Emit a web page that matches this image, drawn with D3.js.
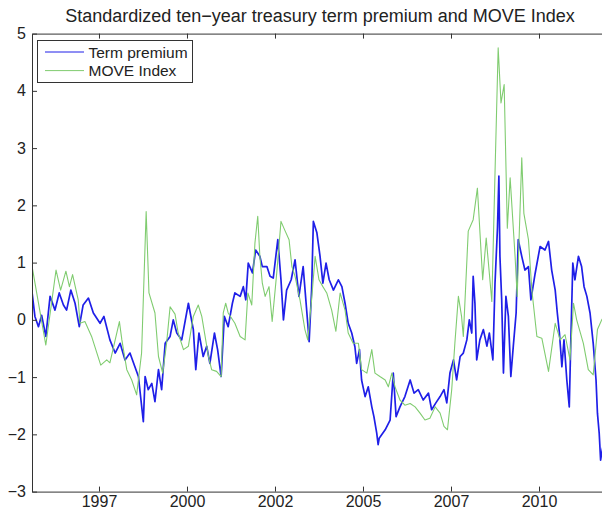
<!DOCTYPE html>
<html>
<head>
<meta charset="utf-8">
<script src="https://cdn.jsdelivr.net/npm/d3@7"></script>
<style>
  html, body { margin: 0; padding: 0; background: #fff; }
  svg { display: block; }
  text { font-family: "Liberation Sans", Arial, Helvetica, sans-serif; fill: #222; }
</style>
</head>
<body>
<svg id="chart" width="602" height="514"></svg>
<script>
const title = "Standardized ten\u2212year treasury term premium and MOVE Index";
const seriesNames = ["Term premium", "MOVE Index"];
const xTickValues = [1997.5, 2000, 2002.5, 2005, 2007.5, 2010];
const xTickLabels = ["1997", "2000", "2002", "2005", "2007", "2010"];
const yTickValues = [-3, -2, -1, 0, 1, 2, 3, 4, 5];
const xDomain = [1995.597, 2011.96];
const yDomain = [-3, 5];

// Term premium (decimal year, standardized value)
const tpYears = [1995.60,1995.68,1995.78,1995.87,1995.99,1996.11,1996.25,1996.37,1996.49,1996.58,1996.70,1996.82,1996.94,1997.05,1997.20,1997.34,1997.53,1997.64,1997.81,1997.96,1998.10,1998.24,1998.38,1998.52,1998.62,1998.76,1998.81,1998.90,1999.00,1999.09,1999.19,1999.28,1999.38,1999.52,1999.61,1999.71,1999.85,2000.04,2000.18,2000.25,2000.34,2000.46,2000.56,2000.65,2000.78,2000.87,2000.97,2001.06,2001.17,2001.29,2001.36,2001.51,2001.60,2001.67,2001.74,2001.86,2001.95,2002.07,2002.14,2002.27,2002.36,2002.45,2002.58,2002.67,2002.74,2002.83,2002.96,2003.07,2003.18,2003.30,2003.43,2003.47,2003.54,2003.59,2003.69,2003.78,2003.86,2003.95,2004.04,2004.16,2004.30,2004.40,2004.49,2004.58,2004.68,2004.77,2004.82,2004.90,2004.96,2005.06,2005.15,2005.25,2005.31,2005.39,2005.43,2005.46,2005.63,2005.77,2005.86,2005.94,2006.05,2006.19,2006.34,2006.45,2006.57,2006.71,2006.86,2006.95,2007.07,2007.19,2007.30,2007.38,2007.47,2007.57,2007.66,2007.76,2007.85,2007.95,2008.02,2008.09,2008.13,2008.18,2008.23,2008.32,2008.42,2008.52,2008.59,2008.69,2008.75,2008.82,2008.86,2008.89,2008.94,2008.99,2009.06,2009.13,2009.20,2009.27,2009.35,2009.41,2009.51,2009.60,2009.70,2009.77,2009.89,2010.03,2010.17,2010.27,2010.36,2010.46,2010.52,2010.58,2010.65,2010.71,2010.79,2010.86,2010.90,2010.96,2011.02,2011.12,2011.21,2011.28,2011.36,2011.45,2011.54,2011.62,2011.66,2011.71,2011.75,2011.78,2011.82];
const tpValues = [0.47,0.06,-0.12,0.08,-0.29,0.41,0.17,0.47,0.26,0.17,0.52,0.29,-0.12,0.26,0.38,0.12,-0.06,0.06,-0.35,-0.58,-0.41,-0.70,-0.58,-0.82,-0.99,-1.78,-0.99,-1.22,-1.11,-1.43,-0.87,-1.22,-0.41,-0.29,0.00,-0.23,-0.35,0.29,-0.17,-0.87,-0.23,-0.64,-0.46,-0.76,-0.23,-0.52,-0.99,0.06,-0.12,0.29,0.47,0.41,0.58,0.35,0.99,0.82,1.22,1.11,0.93,0.93,0.76,0.73,1.40,0.70,0.00,0.52,0.70,1.05,0.41,0.93,-0.06,-0.38,0.52,1.72,1.52,1.11,0.64,0.99,0.70,0.52,0.70,0.58,0.29,-0.06,-0.23,-0.47,-0.76,-0.52,-1.05,-1.34,-1.17,-1.52,-1.69,-1.98,-2.18,-2.07,-1.92,-1.75,-0.93,-1.69,-1.52,-1.34,-1.05,-1.28,-1.22,-1.40,-1.28,-1.57,-1.45,-1.34,-1.22,-1.45,-0.93,-0.70,-1.05,-0.64,-0.58,-0.35,0.00,-0.23,0.76,0.29,-0.70,-0.35,-0.17,-0.46,-0.23,-0.70,0.64,1.60,2.51,1.11,0.35,-0.93,0.41,0.06,-0.99,-0.46,0.12,1.40,1.11,0.87,0.93,0.35,0.81,1.28,1.22,1.37,0.87,0.52,0.12,-0.23,-0.82,-0.35,-1.05,-1.52,-0.46,0.99,0.70,1.11,0.93,0.58,0.41,0.12,-0.41,-1.05,-1.63,-1.98,-2.45,-2.33,-2.20];

// MOVE Index (decimal year, standardized value)
const moveYears = [1995.60,1995.99,1996.28,1996.41,1996.56,1996.66,1996.75,1996.91,1996.96,1997.10,1997.29,1997.55,1997.72,1997.81,1998.08,1998.15,1998.29,1998.43,1998.57,1998.71,1998.84,1998.92,1999.09,1999.19,1999.31,1999.42,1999.52,1999.66,1999.75,1999.90,2000.04,2000.18,2000.32,2000.42,2000.61,2000.70,2000.84,2000.97,2001.03,2001.10,2001.17,2001.36,2001.51,2001.65,2001.73,2001.84,2001.93,2002.01,2002.07,2002.14,2002.22,2002.33,2002.42,2002.55,2002.67,2002.79,2002.90,2002.98,2003.07,2003.21,2003.35,2003.43,2003.54,2003.64,2003.75,2003.86,2003.97,2004.11,2004.23,2004.35,2004.49,2004.58,2004.72,2004.87,2004.96,2005.11,2005.25,2005.34,2005.48,2005.63,2005.72,2005.82,2005.91,2006.05,2006.19,2006.34,2006.48,2006.62,2006.76,2006.90,2007.05,2007.19,2007.30,2007.40,2007.52,2007.61,2007.71,2007.80,2007.85,2007.99,2008.13,2008.25,2008.40,2008.50,2008.66,2008.75,2008.84,2008.92,2009.01,2009.10,2009.18,2009.32,2009.38,2009.51,2009.57,2009.70,2009.80,2009.94,2010.08,2010.27,2010.46,2010.60,2010.74,2010.88,2010.98,2011.07,2011.26,2011.40,2011.54,2011.66,2011.78,2011.85];
const moveValues = [0.93,-0.44,0.87,0.52,0.85,0.58,0.79,0.35,-0.06,-0.03,-0.29,-0.79,-0.70,-0.75,-0.03,-0.35,-0.87,-1.05,-1.31,-0.58,1.89,0.47,0.12,-0.64,-0.93,-0.41,0.23,0.10,-0.23,-0.52,-0.46,0.06,0.26,0.06,-0.64,-0.87,-0.90,-0.99,0.12,0.29,0.12,-0.06,-0.29,-0.35,0.47,0.26,1.34,1.81,1.11,0.64,0.41,0.58,-0.03,0.82,1.72,1.55,1.40,0.93,0.76,0.35,-0.17,-0.35,0.35,1.11,0.70,0.58,0.47,0.17,-0.20,0.47,0.17,-0.23,-0.41,-0.41,-0.87,-0.93,-0.52,-0.93,-0.99,-1.05,-1.17,-0.93,-1.17,-1.40,-1.49,-1.46,-1.52,-1.63,-1.75,-1.72,-1.52,-1.63,-1.86,-1.92,-1.22,-0.41,0.41,0.06,-0.29,1.55,1.75,2.30,0.70,1.43,0.32,2.56,4.75,3.79,4.11,1.60,2.48,1.11,0.41,2.83,1.86,1.40,0.50,-0.29,-0.32,-0.90,-0.06,-0.35,-0.26,-0.70,0.29,0.00,-0.41,-0.87,-0.96,-0.17,0.00,0.05];

const colors = ["#1f1fe8", "#80cc70"];

const svg = d3.select("#chart");
const pLeft = 32, pRight = 608, pTop = 33.6, pBottom = 491.6;

const x = d3.scaleLinear().domain(xDomain).range([pLeft, pRight]);
const y = d3.scaleLinear().domain(yDomain).range([pBottom, pTop]);

svg.append("defs").append("clipPath").attr("id", "clip")
  .append("rect").attr("x", pLeft).attr("y", pTop).attr("width", pRight - pLeft).attr("height", pBottom - pTop);

const line = d3.line().x(d => x(d[0])).y(d => y(d[1]));
const tpData = tpYears.map((t, i) => [t, tpValues[i]]);
const moveData = moveYears.map((t, i) => [t, moveValues[i]]);

const plot = svg.append("g").attr("clip-path", "url(#clip)");
plot.append("path").datum(tpData).attr("d", line)
  .attr("fill", "none").attr("stroke", colors[0]).attr("stroke-width", 1.7).attr("stroke-linejoin", "round");
plot.append("path").datum(moveData).attr("d", line)
  .attr("fill", "none").attr("stroke", colors[1]).attr("stroke-width", 1.1).attr("stroke-linejoin", "round");

// axes
const fmtY = d => (d < 0 ? "\u2212" + Math.abs(d) : String(d));
const axB = d3.axisBottom(x).tickValues(xTickValues).tickFormat((d, i) => xTickLabels[i]).tickSizeInner(-5).tickSizeOuter(0).tickPadding(4);
const axT = d3.axisTop(x).tickValues(xTickValues).tickFormat("").tickSizeInner(-5).tickSizeOuter(0);
const axL = d3.axisLeft(y).tickValues(yTickValues).tickFormat(fmtY).tickSizeInner(-5).tickSizeOuter(0).tickPadding(6);

function style(g) {
  g.selectAll("path.domain").attr("stroke", "#333").attr("stroke-width", 1);
  g.selectAll(".tick line").attr("stroke", "#333").attr("stroke-width", 1);
  g.selectAll(".tick text").style("font-size", "16px").attr("fill", "#222")
    .style("font-family", "'Liberation Sans', Arial, Helvetica, sans-serif");
}
svg.append("g").attr("transform", `translate(0,${pBottom})`).call(axB).call(style);
svg.append("g").attr("transform", `translate(0,${pTop})`).call(axT).call(style);
svg.append("g").attr("transform", `translate(${pLeft},0)`).call(axL).call(style);

// title
svg.append("text").attr("x", (pLeft + pRight) / 2).attr("y", 22)
  .attr("text-anchor", "middle").style("font-size", "18px").text(title);

// legend
const lg = svg.append("g");
lg.append("rect").attr("x", 37.5).attr("y", 40.5).attr("width", 155).attr("height", 42)
  .attr("fill", "#fff").attr("stroke", "#333").attr("stroke-width", 1);
seriesNames.forEach((name, i) => {
  const yy = 52 + i * 18.6;
  lg.append("line").attr("x1", 45).attr("x2", 84).attr("y1", yy).attr("y2", yy)
    .attr("stroke", colors[i]).attr("stroke-width", 1);
  lg.append("text").attr("x", 88.5).attr("y", yy + 5.5).style("font-size", "15.5px").text(name);
});
</script>
</body>
</html>
